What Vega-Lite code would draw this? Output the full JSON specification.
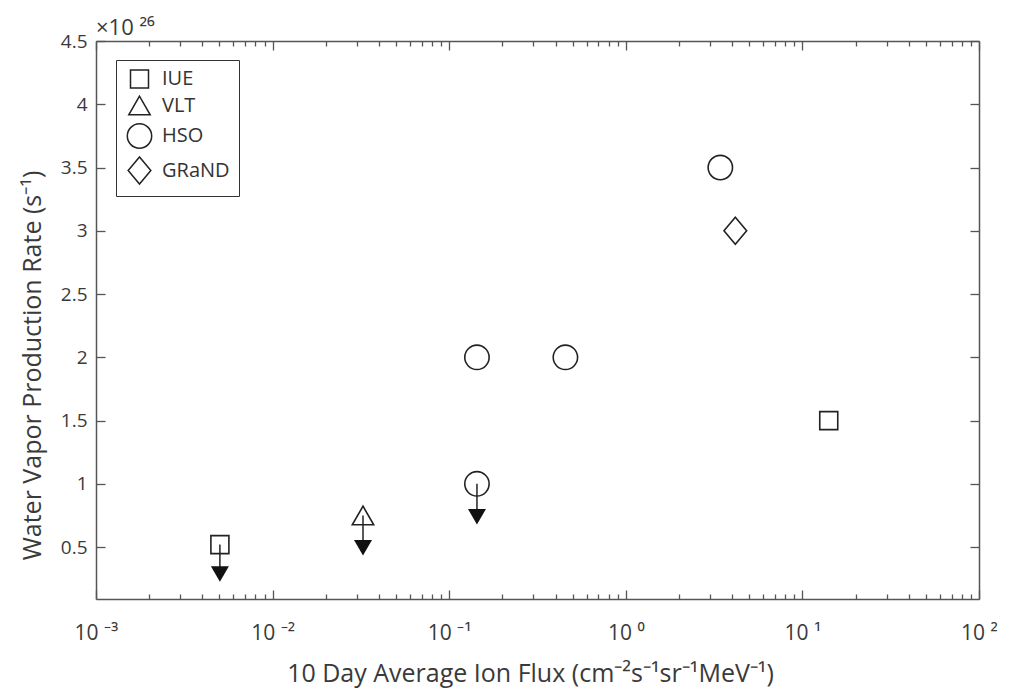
{
  "$schema": "https://vega.github.io/schema/vega-lite/v6.json",
  "autosize": {"type": "none"},
  "padding": {"left": 96, "top": 41, "right": 31, "bottom": 94},
  "width": 883,
  "height": 558,
  "background": "white",
  "config": {
    "font": "Open Sans",
    "view": {"stroke": null},
    "axis": {"grid": false, "domainColor": "#555", "domainWidth": 1.5, "tickColor": "#555", "tickWidth": 1.3, "labelColor": "#3a3a3a", "titleColor": "#3a3a3a", "labelFont": "Open Sans", "titleFont": "Open Sans", "titleFontWeight": "normal"},
    "legend": {"labelFont": "Open Sans"}
  },
  "title": {"text": "×10 ²⁶", "anchor": "start", "frame": "group", "offset": 4, "dy": 12, "fontSize": 22, "fontWeight": "normal", "color": "#3a3a3a", "font": "Open Sans"},
  "datasets": {
    "pts": [
      {"inst": "IUE", "flux": 0.00503, "rate": 0.52},
      {"inst": "IUE", "flux": 14.1, "rate": 1.5},
      {"inst": "VLT", "flux": 0.0325, "rate": 0.75},
      {"inst": "HSO", "flux": 0.1436, "rate": 2.0},
      {"inst": "HSO", "flux": 0.1436, "rate": 1.0},
      {"inst": "HSO", "flux": 0.455, "rate": 2.0},
      {"inst": "HSO", "flux": 3.43, "rate": 3.5},
      {"inst": "GRaND", "flux": 4.17, "rate": 3.0}
    ],
    "arrows": [
      {"flux": 0.00503, "rate": 0.52, "head": 0.288},
      {"flux": 0.0325, "rate": 0.75, "head": 0.495},
      {"flux": 0.1436, "rate": 1.0, "head": 0.74}
    ]
  },
  "resolve": {"axis": {"x": "independent", "y": "independent"}},
  "layer": [
    {
      "data": {"name": "pts"},
      "mark": {"type": "point", "filled": false, "color": "#222", "strokeWidth": 1.6, "opacity": 1},
      "encoding": {
        "x": {"field": "flux", "type": "quantitative",
          "scale": {"type": "log", "domain": [0.001, 100], "nice": false},
          "axis": {"orient": "bottom", "title": "10 Day Average Ion Flux (cm⁻²s⁻¹sr⁻¹MeV⁻¹)", "titleFontSize": 25, "titlePadding": 14, "titleX": 434,
            "values": [0.001,0.002,0.003,0.004,0.005,0.006,0.007,0.008,0.009,0.01,0.02,0.03,0.04,0.05,0.06,0.07,0.08,0.09,0.1,0.2,0.3,0.4,0.5,0.6,0.7,0.8,0.9,1,2,3,4,5,6,7,8,9,10,20,30,40,50,60,70,80,90,100],
            "labelExpr": "datum.value == 0.001 ? '10 ⁻³' : datum.value == 0.01 ? '10 ⁻²' : datum.value == 0.1 ? '10 ⁻¹' : datum.value == 1 ? '10 ⁰' : datum.value == 10 ? '10 ¹' : datum.value == 100 ? '10 ²' : ''",
            "labelOverlap": false, "labelFontSize": 21, "labelPadding": 32, "labelFlush": false,
            "tickSize": {"condition": {"test": "abs(log(datum.value)/LN10 - round(log(datum.value)/LN10)) < 0.000001", "value": -9}, "value": -5}}},
        "y": {"field": "rate", "type": "quantitative",
          "scale": {"domain": [0.09, 4.5], "nice": false, "zero": false},
          "axis": {"orient": "left", "title": "Water Vapor Production Rate (s⁻¹)", "titleFontSize": 25, "titlePadding": 15, "titleY": 324,
            "values": [0.5,1,1.5,2,2.5,3,3.5,4,4.5], "format": "~g", "labelFontSize": 19, "labelPadding": 18, "tickSize": -9, "labelFlush": false}},
        "shape": {"field": "inst", "type": "nominal",
          "scale": {"domain": ["IUE", "VLT", "HSO", "GRaND"], "range": ["square", "triangle-up", "circle", "M-0.84,0L0,-1L0.84,0L0,1Z"]},
          "legend": {"title": null, "orient": "none", "legendX": 20, "legendY": 19, "strokeColor": "#333", "fillColor": "white", "padding": 9, "labelFontSize": 20, "labelColor": "#333", "symbolStrokeColor": "#222", "symbolStrokeWidth": 1.5, "rowPadding": 2, "labelOffset": 8}},
        "size": {"field": "inst", "type": "nominal",
          "scale": {"domain": ["IUE", "VLT", "HSO", "GRaND"], "range": [324, 729, 484, 900]}}
      }
    },
    {
      "data": {"name": "arrows"},
      "mark": {"type": "rule", "color": "#222", "strokeWidth": 1.5},
      "encoding": {
        "x": {"field": "flux", "type": "quantitative",
          "scale": {"type": "log", "domain": [0.001, 100], "nice": false},
          "axis": {"orient": "top", "title": null, "labels": false, "domain": true,
            "values": [0.001,0.002,0.003,0.004,0.005,0.006,0.007,0.008,0.009,0.01,0.02,0.03,0.04,0.05,0.06,0.07,0.08,0.09,0.1,0.2,0.3,0.4,0.5,0.6,0.7,0.8,0.9,1,2,3,4,5,6,7,8,9,10,20,30,40,50,60,70,80,90,100],
            "tickSize": {"condition": {"test": "abs(log(datum.value)/LN10 - round(log(datum.value)/LN10)) < 0.000001", "value": -9}, "value": -5}}},
        "y": {"field": "rate", "type": "quantitative",
          "scale": {"domain": [0.09, 4.5], "nice": false, "zero": false},
          "axis": {"orient": "right", "title": null, "labels": false, "values": [0.5,1,1.5,2,2.5,3,3.5,4,4.5], "tickSize": -9}},
        "y2": {"field": "head"}
      }
    },
    {
      "data": {"name": "arrows"},
      "mark": {"type": "point", "shape": "triangle-down", "filled": true, "color": "#111", "size": 324, "opacity": 1},
      "encoding": {
        "x": {"field": "flux", "type": "quantitative", "axis": null},
        "y": {"field": "head", "type": "quantitative", "axis": null}
      }
    }
  ]
}
